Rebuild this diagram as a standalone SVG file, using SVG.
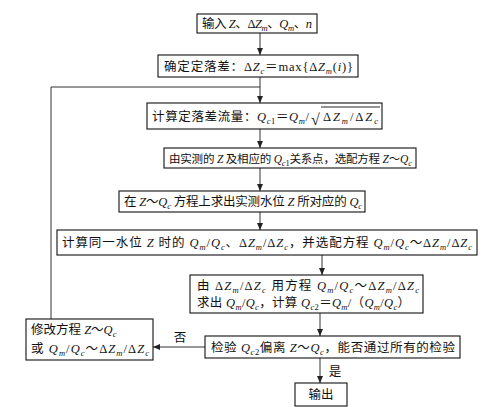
<svg xmlns="http://www.w3.org/2000/svg" width="502" height="407" viewBox="0 0 502 407">
<defs>
<marker id="ah" markerUnits="userSpaceOnUse" markerWidth="7" markerHeight="6" refX="7" refY="3" orient="auto">
<path d="M0,0 L7,3 L0,6 z" fill="#222"/>
</marker>
<style>
.box{fill:#fff;stroke:#111;stroke-width:1.1}
.t{font-family:"Liberation Serif","Noto Sans CJK SC",serif;font-size:12.5px;fill:#111}
.v{font-style:italic}
.s{font-size:8.5px;font-style:italic}
.n{font-size:8.5px}
.c{fill:none;stroke:#333;stroke-width:1}
.a{marker-end:url(#ah)}
</style>
</defs>
<rect width="502" height="407" fill="#fff"/>
<g id="connectors">
<line class="c a" x1="260" y1="33" x2="260" y2="55"/>
<line class="c a" x1="260" y1="77" x2="260" y2="103"/>
<line class="c a" x1="260" y1="129" x2="260" y2="148"/>
<line class="c a" x1="260" y1="168" x2="260" y2="191"/>
<line class="c a" x1="260" y1="212" x2="260" y2="230"/>
<line class="c a" x1="322" y1="255" x2="322" y2="275"/>
<line class="c a" x1="320" y1="313" x2="320" y2="336"/>
<line class="c a" x1="320" y1="358" x2="320" y2="383"/>
<line class="c a" x1="205" y1="347" x2="153" y2="347"/>
<polyline class="c" points="51,319 51,87 260,87"/>
<text class="t" x="180" y="342" text-anchor="middle">否</text>
<text class="t" x="335" y="376" text-anchor="middle">是</text>
</g>
<g id="n1">
<rect class="box" x="197" y="14" width="120" height="19"/>
<text class="t" x="202" y="28" textLength="110" lengthAdjust="spacing">输入 <tspan class="v">Z</tspan>、Δ<tspan class="v">Z</tspan><tspan class="s" dy="3">m</tspan><tspan dy="-3">、</tspan><tspan class="v">Q</tspan><tspan class="s" dy="3">m</tspan><tspan dy="-3">、</tspan><tspan class="v">n</tspan></text>
</g>
<g id="n2">
<rect class="box" x="158" y="55" width="200" height="22"/>
<text class="t" x="164" y="70.5" textLength="189" lengthAdjust="spacing">确定定落差：Δ<tspan class="v">Z</tspan><tspan class="s" dy="3">c</tspan><tspan dy="-3">＝max{Δ</tspan><tspan class="v">Z</tspan><tspan class="s" dy="3">m</tspan><tspan dy="-3">(</tspan><tspan class="v">i</tspan>)}</text>
</g>
<g id="n3">
<rect class="box" x="147" y="103" width="235" height="26"/>
<text class="t" x="152" y="121" textLength="157" lengthAdjust="spacing">计算定落差流量：<tspan class="v">Q</tspan><tspan class="s" dy="3">c</tspan><tspan class="n">1</tspan><tspan dy="-3">＝</tspan><tspan class="v">Q</tspan><tspan class="s" dy="3">m</tspan><tspan dy="-3">/</tspan></text>
<text class="t" x="311" y="124.5" style="font-size:16px">√</text>
<line x1="321" y1="107" x2="380" y2="107" stroke="#111" stroke-width="0.9"/>
<text class="t" x="323" y="121" textLength="55" lengthAdjust="spacing">Δ<tspan class="v">Z</tspan><tspan class="s" dy="3">m</tspan><tspan dy="-3">/Δ</tspan><tspan class="v">Z</tspan><tspan class="s" dy="3">c</tspan></text>
</g>
<g id="n4">
<rect class="box" x="164" y="148" width="252" height="20"/>
<text class="t" x="169" y="162.5" style="font-size:11.5px" textLength="243" lengthAdjust="spacing">由实测的 <tspan class="v">Z</tspan> 及相应的 <tspan class="v">Q</tspan><tspan class="s" dy="3">c</tspan><tspan class="n">1</tspan><tspan dy="-3">关系点，选配方程 </tspan><tspan class="v">Z</tspan>～<tspan class="v">Q</tspan><tspan class="s" dy="3">c</tspan></text>
</g>
<g id="n5">
<rect class="box" x="119" y="191" width="246" height="21"/>
<text class="t" x="124" y="206" textLength="238" lengthAdjust="spacing">在 <tspan class="v">Z</tspan>～<tspan class="v">Q</tspan><tspan class="s" dy="3">c</tspan><tspan dy="-3"> 方程上求出实测水位 </tspan><tspan class="v">Z</tspan> 所对应的 <tspan class="v">Q</tspan><tspan class="s" dy="3">c</tspan></text>
</g>
<g id="n6">
<rect class="box" x="57" y="230" width="420" height="25"/>
<text class="t" x="62" y="247" textLength="410" lengthAdjust="spacing">计算同一水位 <tspan class="v">Z</tspan> 时的 <tspan class="v">Q</tspan><tspan class="s" dy="3">m</tspan><tspan dy="-3">/</tspan><tspan class="v">Q</tspan><tspan class="s" dy="3">c</tspan><tspan dy="-3">、Δ</tspan><tspan class="v">Z</tspan><tspan class="s" dy="3">m</tspan><tspan dy="-3">/Δ</tspan><tspan class="v">Z</tspan><tspan class="s" dy="3">c</tspan><tspan dy="-3">，并选配方程 </tspan><tspan class="v">Q</tspan><tspan class="s" dy="3">m</tspan><tspan dy="-3">/</tspan><tspan class="v">Q</tspan><tspan class="s" dy="3">c</tspan><tspan dy="-3">～Δ</tspan><tspan class="v">Z</tspan><tspan class="s" dy="3">m</tspan><tspan dy="-3">/Δ</tspan><tspan class="v">Z</tspan><tspan class="s" dy="3">c</tspan></text>
</g>
<g id="n7">
<rect class="box" x="190" y="275" width="233" height="38"/>
<text class="t" x="197" y="290" textLength="222" lengthAdjust="spacing">由 Δ<tspan class="v">Z</tspan><tspan class="s" dy="3">m</tspan><tspan dy="-3">/Δ</tspan><tspan class="v">Z</tspan><tspan class="s" dy="3">c</tspan><tspan dy="-3"> 用方程 </tspan><tspan class="v">Q</tspan><tspan class="s" dy="3">m</tspan><tspan dy="-3">/</tspan><tspan class="v">Q</tspan><tspan class="s" dy="3">c</tspan><tspan dy="-3">～Δ</tspan><tspan class="v">Z</tspan><tspan class="s" dy="3">m</tspan><tspan dy="-3">/Δ</tspan><tspan class="v">Z</tspan><tspan class="s" dy="3">c</tspan></text>
<text class="t" x="197" y="307" textLength="213" lengthAdjust="spacing">求出 <tspan class="v">Q</tspan><tspan class="s" dy="3">m</tspan><tspan dy="-3">/</tspan><tspan class="v">Q</tspan><tspan class="s" dy="3">c</tspan><tspan dy="-3">，计算 </tspan><tspan class="v">Q</tspan><tspan class="s" dy="3">c</tspan><tspan class="n">2</tspan><tspan dy="-3">＝</tspan><tspan class="v">Q</tspan><tspan class="s" dy="3">m</tspan><tspan dy="-3">/（</tspan><tspan class="v">Q</tspan><tspan class="s" dy="3">m</tspan><tspan dy="-3">/</tspan><tspan class="v">Q</tspan><tspan class="s" dy="3">c</tspan><tspan dy="-3">）</tspan></text>
</g>
<g id="n8">
<rect class="box" x="205" y="336" width="255" height="22"/>
<text class="t" x="211" y="351.5" textLength="244" lengthAdjust="spacing">检验 <tspan class="v">Q</tspan><tspan class="s" dy="3">c</tspan><tspan class="n">2</tspan><tspan dy="-3">偏离 </tspan><tspan class="v">Z</tspan>～<tspan class="v">Q</tspan><tspan class="s" dy="3">c</tspan><tspan dy="-3">，能否通过所有的检验</tspan></text>
</g>
<g id="n9">
<rect class="box" x="26" y="319" width="127" height="41"/>
<text class="t" x="31" y="334">修改方程 <tspan class="v">Z</tspan>～<tspan class="v">Q</tspan><tspan class="s" dy="3">c</tspan></text>
<text class="t" x="31" y="353" textLength="118" lengthAdjust="spacing">或 <tspan class="v">Q</tspan><tspan class="s" dy="3">m</tspan><tspan dy="-3">/</tspan><tspan class="v">Q</tspan><tspan class="s" dy="3">c</tspan><tspan dy="-3">～Δ</tspan><tspan class="v">Z</tspan><tspan class="s" dy="3">m</tspan><tspan dy="-3">/Δ</tspan><tspan class="v">Z</tspan><tspan class="s" dy="3">c</tspan></text>
</g>
<g id="n10">
<rect class="box" x="295" y="383" width="52" height="23"/>
<text class="t" x="321" y="399" text-anchor="middle">输出</text>
</g>
</svg>
